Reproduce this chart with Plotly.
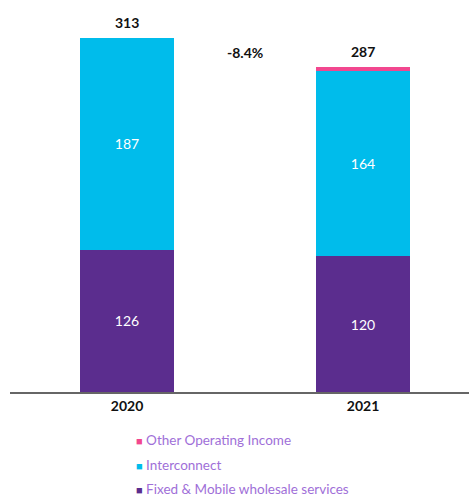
import plotly.graph_objects as go

years = ["2020", "2021"]
fixed_mobile = [126, 120]
interconnect = [187, 164]
other_income = [0, 3]
totals = [313, 287]
change_label = "-8.4%"

series_names = ["Other Operating Income", "Interconnect", "Fixed & Mobile wholesale services"]
series_colors = ["#F2478F", "#00BCEB", "#5B2D8E"]

x_pos = [0, 1]
bar_w = 0.4

fig = go.Figure()
fig.add_trace(go.Bar(
    x=x_pos, y=fixed_mobile, width=bar_w, name=series_names[2],
    marker=dict(color=series_colors[2], line=dict(width=0)),
    text=[str(v) for v in fixed_mobile], textposition="inside", insidetextanchor="middle",
    textfont=dict(color="white", size=14),
))
fig.add_trace(go.Bar(
    x=x_pos, y=interconnect, width=bar_w, name=series_names[1],
    marker=dict(color=series_colors[1], line=dict(width=0)),
    text=[str(v) for v in interconnect], textposition="inside", insidetextanchor="middle",
    textfont=dict(color="white", size=14),
))
fig.add_trace(go.Bar(
    x=x_pos, y=other_income, width=bar_w, name=series_names[0],
    marker=dict(color=series_colors[0], line=dict(width=0)),
    textposition="none",
))

for xp, t in zip(x_pos, totals):
    fig.add_annotation(x=xp, y=t, text=f"<b>{t}</b>", showarrow=False,
                       yanchor="bottom", yshift=5, font=dict(size=14, color="#111"))
fig.add_annotation(x=0.5, y=(totals[0] + totals[1]) / 2, text=f"<b>{change_label}</b>",
                   showarrow=False, font=dict(size=14, color="#111"))

# compact legend: small square swatch right next to each label
legend_top = (392 - 440) / 372
legend_step = 24.5 / 372
for i, (name, col) in enumerate(zip(series_names, series_colors)):
    fig.add_annotation(
        xref="paper", yref="paper", x=0.272, y=legend_top - i * legend_step,
        xanchor="left", yanchor="middle", showarrow=False, borderpad=0,
        text=f"<span style='color:{col};font-size:11px'>■</span> {name}",
        font=dict(size=13.5, color="#A06FD8"),
    )

fig.update_layout(
    barmode="stack",
    width=469, height=497,
    margin=dict(l=10, r=0, t=20, b=105, autoexpand=False),
    paper_bgcolor="white", plot_bgcolor="white",
    font=dict(family="Lato", size=14, color="#111"),
    xaxis=dict(range=[-0.496, 1.449], tickvals=x_pos,
               ticktext=[f"<b>{y}</b>" for y in years],
               showgrid=False, zeroline=False, showline=True,
               linecolor="#666", linewidth=1.5, ticks="", tickfont=dict(size=14)),
    yaxis=dict(range=[0, 329], visible=False, showgrid=False),
    showlegend=False,
)

fig.write_html("out.html")
